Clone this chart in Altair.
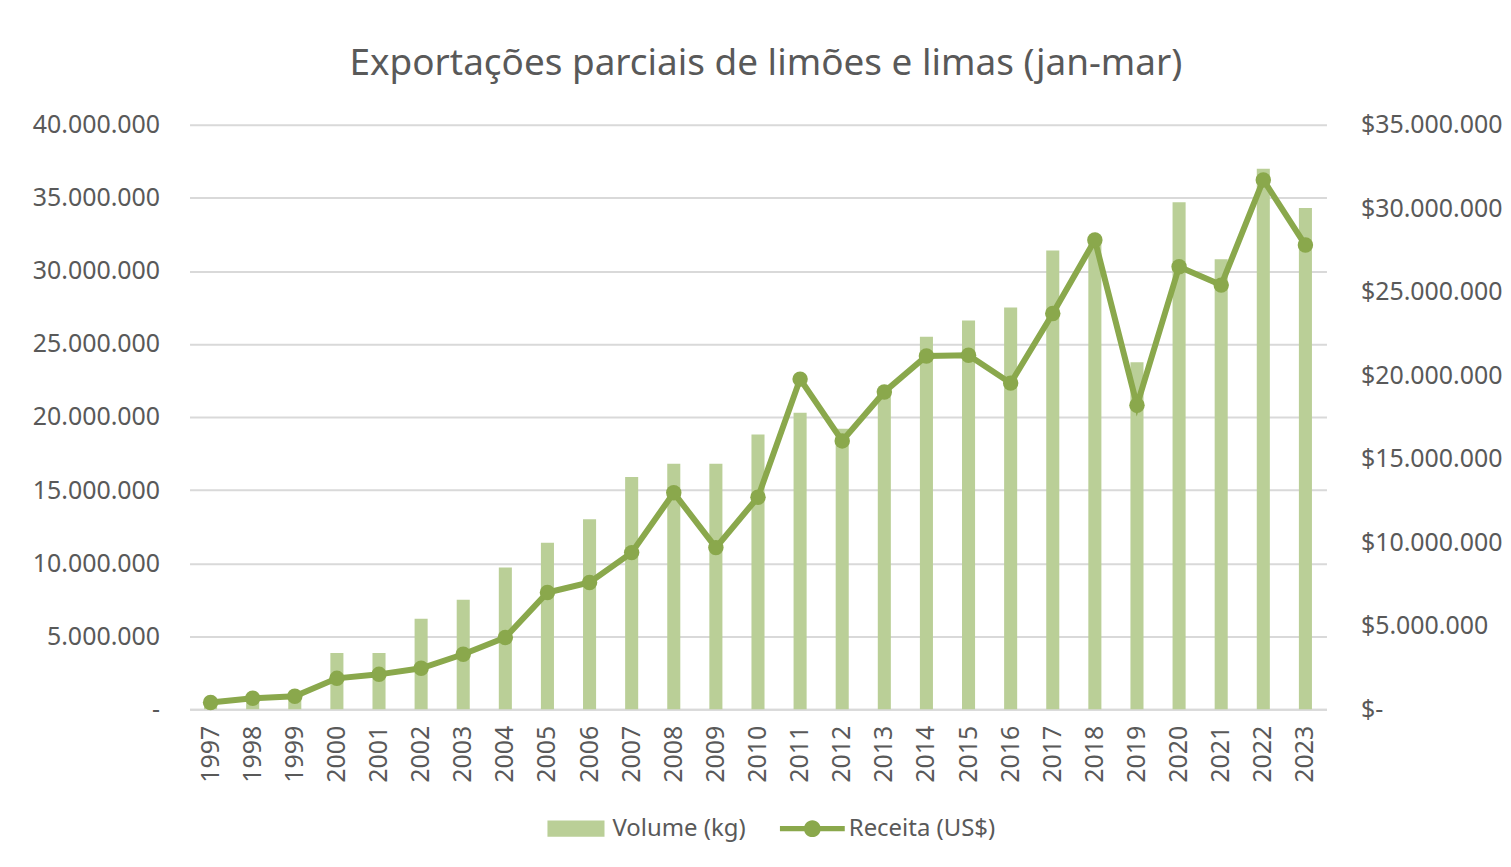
import altair as alt
import pandas as pd

years = [str(y) for y in range(1997, 2024)]
volume_kg = [
    400000, 600000, 1000000, 3850000, 3850000, 6200000, 7500000, 9700000,
    11400000, 13000000, 15900000, 16800000, 16800000, 18800000, 20300000,
    19200000, 21500000, 25500000, 26600000, 27500000, 31400000, 32000000,
    23750000, 34700000, 30800000, 37000000, 34300000,
]
receita_usd = [
    400000, 660000, 780000, 1850000, 2090000, 2450000, 3290000, 4300000,
    6990000, 7590000, 9380000, 12960000, 9680000, 12700000, 19770000,
    16070000, 19000000, 21150000, 21200000, 19530000, 23700000, 28100000,
    18200000, 26500000, 25400000, 31700000, 27800000,
]
series_names = ["Volume (kg)", "Receita (US$)"]
left_ticks = [0, 5e6, 10e6, 15e6, 20e6, 25e6, 30e6, 35e6, 40e6]
right_ticks = [0, 5e6, 10e6, 15e6, 20e6, 25e6, 30e6, 35e6]

BAR_COLOR = "#bacf97"
LINE_COLOR = "#8aa84c"
TEXT_COLOR = "#595959"
GRID_COLOR = "#d9d9d9"
FONT = "Noto Sans"

df = pd.DataFrame({"ano": years, "volume": volume_kg, "receita": receita_usd})
legend_df = pd.DataFrame({"serie": series_names})

bar_path = "M-0.88,-0.25H0.88V0.25H-0.88Z"
line_path = ("M-1,-0.08H1V0.08H-1Z "
             "M-0.26,0A0.26,0.26 0 1,1 0.26,0A0.26,0.26 0 1,1 -0.26,0Z")

legend = alt.Legend(
    title=None,
    orient="none",
    legendX=355,
    legendY=673,
    direction="horizontal",
    labelFont=FONT,
    labelFontSize=24,
    labelColor=TEXT_COLOR,
    symbolSize=65 * 65,
    symbolOpacity=1,
    symbolStrokeWidth=0,
    labelOffset=4,
    columnPadding=34,
)

x_enc = alt.X(
    "ano:N",
    sort=years,
    scale=alt.Scale(paddingInner=0.69, paddingOuter=0.345),
    axis=alt.Axis(
        title=None,
        labelAngle=-90,
        labelFont=FONT,
        labelFontSize=25,
        labelColor=TEXT_COLOR,
        labelPadding=16,
        ticks=False,
        domainColor=GRID_COLOR,
        domainWidth=2,
        grid=False,
    ),
)

bars = alt.Chart(df).mark_bar(color=BAR_COLOR).encode(
    x=x_enc,
    y=alt.Y(
        "volume:Q",
        scale=alt.Scale(domain=[0, 40e6], nice=False),
        axis=alt.Axis(
            title=None,
            values=left_ticks,
            labelExpr="datum.value == 0 ? '-' : replace(format(datum.value, ',d'), regexp(',', 'g'), '.')",
            labelFont=FONT,
            labelFontSize=25,
            labelColor=TEXT_COLOR,
            labelPadding=30,
            ticks=False,
            domain=False,
            grid=True,
            gridColor=GRID_COLOR,
            gridWidth=2,
        ),
    ),
)

line = alt.Chart(df).mark_line(
    strokeWidth=6,
    color=LINE_COLOR,
    point=alt.OverlayMarkDef(filled=True, size=240, color=LINE_COLOR, opacity=1),
).encode(
    x=x_enc,
    y=alt.Y(
        "receita:Q",
        scale=alt.Scale(domain=[0, 35e6], nice=False),
        axis=alt.Axis(
            title=None,
            orient="right",
            values=right_ticks,
            labelExpr="datum.value == 0 ? '$-' : '$' + replace(format(datum.value, ',d'), regexp(',', 'g'), '.')",
            labelFont=FONT,
            labelFontSize=25,
            labelColor=TEXT_COLOR,
            labelPadding=34,
            ticks=False,
            domain=False,
            grid=False,
        ),
    ),
)

legend_layer = alt.Chart(legend_df).mark_point(filled=True, opacity=0).encode(
    color=alt.Color("serie:N", scale=alt.Scale(domain=series_names, range=[BAR_COLOR, LINE_COLOR]), legend=legend),
    shape=alt.Shape("serie:N", scale=alt.Scale(domain=series_names, range=[bar_path, line_path]), legend=legend),
)

chart = (
    alt.layer(bars, line, legend_layer)
    .resolve_scale(y="independent")
    .properties(
        width=1140,
        height=586,
        padding={"left": 24, "top": 36, "right": 0, "bottom": 0},
        title=alt.TitleParams(
            "Exportações parciais de limões e limas (jan-mar)",
            font=FONT,
            fontSize=37,
            fontWeight="normal",
            color=TEXT_COLOR,
            anchor="middle",
            offset=30,
            dx=8,
        ),
    )
    .configure(background="white")
    .configure_view(stroke="transparent", strokeWidth=0)
)

chart.save("out.html", embed_options={"renderer": "svg", "actions": False})
